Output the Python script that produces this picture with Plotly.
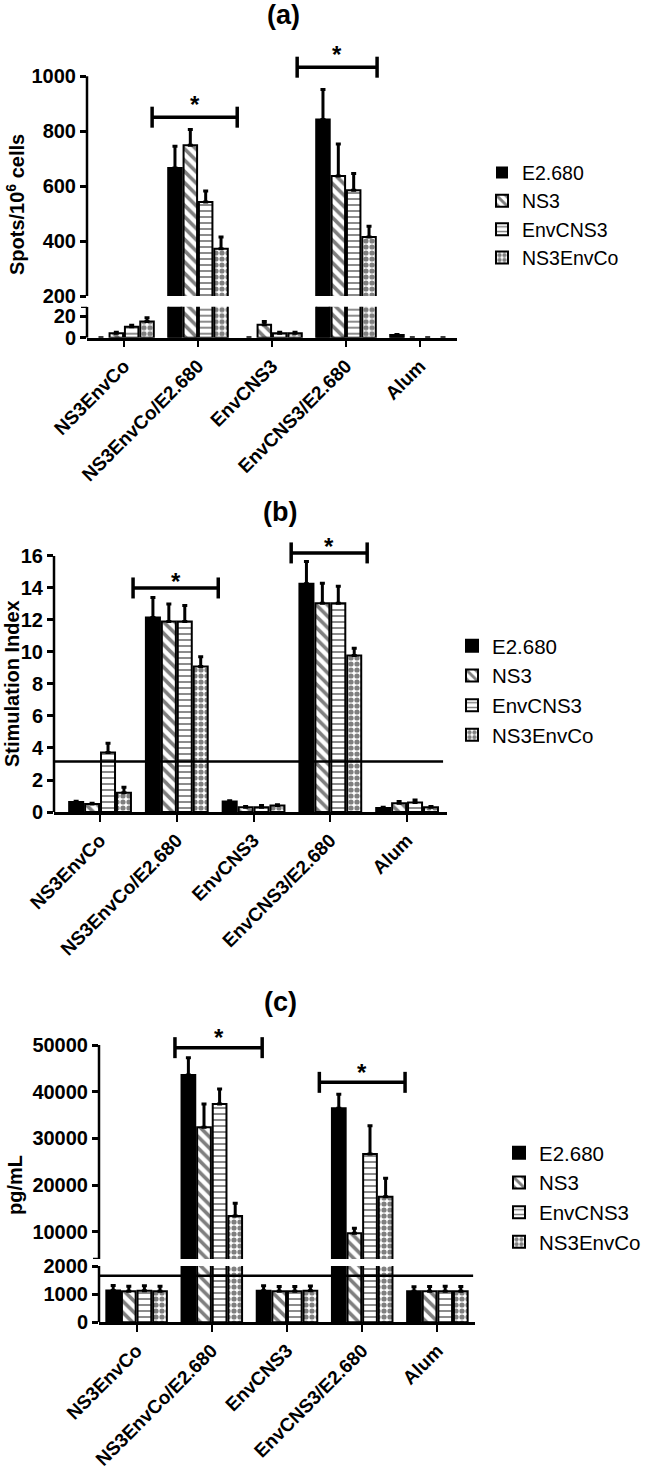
import plotly.graph_objects as go

W, H = 646, 1475
FONT = "Liberation Sans, Arial, sans-serif"

# ---------------- data ----------------
categories = ["NS3EnvCo", "NS3EnvCo/E2.680", "EnvCNS3", "EnvCNS3/E2.680", "Alum"]
series = ["E2.680", "NS3", "EnvCNS3", "NS3EnvCo"]

# (a) IFN-gamma ELISpot, spots / 10^6 cells
spots_E2680 = [0, 666, 0, 843, 2.5]
spots_E2680_err = [0, 79, 0, 109, 0.5]
spots_NS3 = [4, 749, 12, 637, 0]
spots_NS3_err = [1, 57, 3, 116, 0]
spots_EnvCNS3 = [10, 542, 4, 585, 0]
spots_EnvCNS3_err = [1.5, 40, 1, 61, 0]
spots_NS3EnvCo = [15, 372, 4, 415, 0]
spots_NS3EnvCo_err = [3.5, 43, 1, 39, 0]

# (b) stimulation index
si_E2680 = [0.62, 12.15, 0.65, 14.27, 0.25]
si_E2680_err = [0.05, 1.25, 0.05, 1.38, 0.05]
si_NS3 = [0.5, 11.9, 0.3, 13.05, 0.55]
si_NS3_err = [0.05, 1.1, 0.05, 1.25, 0.1]
si_EnvCNS3 = [3.72, 11.9, 0.3, 13.05, 0.6]
si_EnvCNS3_err = [0.58, 1.0, 0.1, 1.05, 0.15]
si_NS3EnvCo = [1.2, 9.1, 0.4, 9.78, 0.3]
si_NS3EnvCo_err = [0.35, 0.6, 0.05, 0.46, 0.05]
si_threshold = 3.16

# (c) pg/mL
pg_E2680 = [1130, 43570, 1120, 36430, 1100]
pg_E2680_err = [180, 3720, 180, 3000, 160]
pg_NS3 = [1100, 32360, 1100, 9640, 1100]
pg_NS3_err = [180, 5000, 170, 1070, 170]
pg_EnvCNS3 = [1120, 37360, 1100, 26640, 1100]
pg_EnvCNS3_err = [180, 3210, 170, 6070, 180]
pg_NS3EnvCo = [1100, 13360, 1120, 17500, 1100]
pg_NS3EnvCo_err = [180, 2720, 170, 3930, 170]
pg_threshold = 1658

# significance brackets: (start position, end position, height)
spots_brackets = [(0.38, 1.53, 851), (2.34, 3.42, 1033)]
si_brackets = [(0.43, 1.54, 14.0), (2.49, 3.48, 16.19)]
pg_brackets = [(0.51, 1.67, 49430), (2.43, 3.57, 42000)]

# axis ranges
spots_low_top, spots_up_bottom, spots_up_top = 28.6, 200, 1132
si_top = 17.31
pg_low_top, pg_up_bottom, pg_up_top = 2000, 4146, 56428

# ---------------- styles ----------------
patterns = {
    "E2.680": dict(shape=""),
    "NS3": dict(shape="\\", fgcolor="black", bgcolor="white", size=8, solidity=0.45),
    "EnvCNS3": dict(shape="-", fgcolor="black", bgcolor="white", size=6, solidity=0.3),
    "NS3EnvCo": dict(shape=".", fgcolor="black", bgcolor="white", size=6, solidity=0.6),
}
fillcol = {"E2.680": "black", "NS3": "white", "EnvCNS3": "white", "NS3EnvCo": "white"}


def px_x(p):
    return p / W


def px_y(p):
    return 1 - p / H


def dom_y(top, bottom):
    return [1 - bottom / H, 1 - top / H]


fig = go.Figure()


def add_bars(vals, errs, xaxis, yaxis, legend, show):
    for name, v, e in zip(series, vals, errs):
        fig.add_trace(go.Bar(
            x=categories, y=v, name=name, xaxis=xaxis, yaxis=yaxis,
            marker=dict(color=fillcol[name], pattern=patterns[name],
                        line=dict(color="black", width=[2 if val > 0 else 0 for val in v])),
            error_y=dict(type="data", array=e, arrayminus=[0] * len(e),
                         symmetric=False, color="black", thickness=3, width=2.5),
            legend=legend, showlegend=show,
        ))


spots_vals = [spots_E2680, spots_NS3, spots_EnvCNS3, spots_NS3EnvCo]
spots_errs = [spots_E2680_err, spots_NS3_err, spots_EnvCNS3_err, spots_NS3EnvCo_err]
si_vals = [si_E2680, si_NS3, si_EnvCNS3, si_NS3EnvCo]
si_errs = [si_E2680_err, si_NS3_err, si_EnvCNS3_err, si_NS3EnvCo_err]
pg_vals = [pg_E2680, pg_NS3, pg_EnvCNS3, pg_NS3EnvCo]
pg_errs = [pg_E2680_err, pg_NS3_err, pg_EnvCNS3_err, pg_NS3EnvCo_err]

add_bars(spots_vals, spots_errs, "x", "y", "legend", False)
add_bars(spots_vals, spots_errs, "x", "y2", "legend", True)
add_bars(si_vals, si_errs, "x2", "y3", "legend2", True)
add_bars(pg_vals, pg_errs, "x3", "y4", "legend3", False)
add_bars(pg_vals, pg_errs, "x3", "y5", "legend3", True)

ytickfont = dict(family=FONT, size=20, color="black", weight="bold")
xtickfont = dict(family=FONT, size=19, color="black", weight="bold")
xcommon = dict(type="category", showline=True, linewidth=2.5, linecolor="black",
               ticks="outside", ticklen=7, tickwidth=2, tickcolor="black",
               tickangle=-45, tickfont=xtickfont, showgrid=False, zeroline=False)
ycommon = dict(showline=False, ticks="outside", ticklen=6, tickwidth=2.5,
               tickcolor="black", tickfont=ytickfont, showgrid=False, zeroline=False,
               tickformat="d")

legfont = lambda s: dict(family=FONT, size=s, color="black")

layout = dict(
    width=W, height=H, margin=dict(l=0, r=0, t=0, b=0, autoexpand=False),
    paper_bgcolor="white", plot_bgcolor="white",
    barmode="group", bargap=0.17, bargroupgap=0.12,
    xaxis=dict(xcommon, domain=[px_x(87), px_x(457)], range=[-0.5, 4.5], anchor="y"),
    yaxis=dict(ycommon, domain=dom_y(306.7, 337.7), range=[0, spots_low_top], anchor="x",
               tickvals=[0, 20]),
    yaxis2=dict(ycommon, domain=dom_y(40, 296), range=[spots_up_bottom, spots_up_top], anchor="x",
                tickvals=[200, 400, 600, 800, 1000]),
    xaxis2=dict(xcommon, domain=[px_x(54), px_x(447)], range=[-0.6, 4.52], anchor="y3"),
    yaxis3=dict(ycommon, domain=dom_y(535, 812), range=[0, si_top], anchor="x2",
                tickvals=[0, 2, 4, 6, 8, 10, 12, 14, 16]),
    xaxis3=dict(xcommon, domain=[px_x(99), px_x(475)], range=[-0.5, 4.5], anchor="y4"),
    yaxis4=dict(ycommon, domain=dom_y(1266, 1322.3), range=[0, pg_low_top], anchor="x3",
                tickvals=[0, 1000, 2000]),
    yaxis5=dict(ycommon, domain=dom_y(1015, 1259), range=[pg_up_bottom, pg_up_top], anchor="x3",
                tickvals=[10000, 20000, 30000, 40000, 50000]),
    legend=dict(x=px_x(482), y=px_y(215.3), xanchor="left", yanchor="middle",
                font=legfont(19.5), bgcolor="rgba(0,0,0,0)"),
    legend2=dict(x=px_x(452), y=px_y(690.5), xanchor="left", yanchor="middle",
                 font=legfont(20.5), bgcolor="rgba(0,0,0,0)"),
    legend3=dict(x=px_x(499), y=px_y(1197.5), xanchor="left", yanchor="middle",
                 font=legfont(20.5), bgcolor="rgba(0,0,0,0)"),
    showlegend=True,
)
fig.update_layout(**layout)

shapes = []
line = dict(color="black", width=2.5)
# y axis lines (only over the labelled span)
for xd, ya, y0, y1 in [("x domain", "y", 0, spots_low_top), ("x domain", "y2", 200, 1000),
                       ("x2 domain", "y3", 0, 16),
                       ("x3 domain", "y4", 0, pg_low_top), ("x3 domain", "y5", pg_up_bottom, 50000)]:
    shapes.append(dict(type="line", xref=xd, x0=0, x1=0, yref=ya, y0=y0, y1=y1, line=line))
# axis-break end ticks
for xd, ya, yv in [("x domain", "y", spots_low_top), ("x3 domain", "y5", pg_up_bottom)]:
    shapes.append(dict(type="line", xref=xd, xsizemode="pixel", xanchor=0, x0=-6, x1=0,
                       yref=ya, y0=yv, y1=yv, line=line))

# threshold lines
shapes.append(dict(type="line", xref="x2 domain", x0=0, x1=0.99, yref="y3",
                   y0=si_threshold, y1=si_threshold, line=dict(color="black", width=2.5)))
shapes.append(dict(type="line", xref="x3 domain", x0=0, x1=0.995, yref="y4",
                   y0=pg_threshold, y1=pg_threshold, line=dict(color="black", width=2.5)))

annotations = []
bl = dict(color="black", width=3.5)
for brs, xa, ya, yshift in [(spots_brackets, "x", "y2", 13), (si_brackets, "x2", "y3", 6),
                            (pg_brackets, "x3", "y5", 10)]:
    for x0, x1, yb in brs:
        shapes.append(dict(type="line", xref=xa, yref=ya, x0=x0, x1=x1, y0=yb, y1=yb, line=bl))
        for xc in (x0, x1):
            shapes.append(dict(type="line", xref=xa, yref=ya, x0=xc, x1=xc,
                               ysizemode="pixel", yanchor=yb, y0=-10.5, y1=10.5, line=bl))
        annotations.append(dict(xref=xa, yref=ya, x=(x0 + x1) / 2, y=yb, text="*",
                                showarrow=False, yshift=yshift, yanchor="middle",
                                font=dict(family=FONT, size=24, color="black", weight="bold")))

titlefont = dict(family=FONT, size=27, color="black", weight="bold")
for t, xp, yp in [("(a)", 283, 15), ("(b)", 280, 512), ("(c)", 280, 1002)]:
    annotations.append(dict(xref="paper", yref="paper", x=px_x(xp), y=px_y(yp), text=t,
                            showarrow=False, xanchor="center", yanchor="middle", font=titlefont))

axfont = dict(family=FONT, size=20, color="black", weight="bold")
for t, xp, yp in [("Spots/10<sup>6</sup> cells", 15, 205), ("Stimulation Index", 12, 684),
                  ("pg/mL", 15, 1185)]:
    annotations.append(dict(xref="paper", yref="paper", x=px_x(xp), y=px_y(yp), text=t,
                            showarrow=False, textangle=-90, xanchor="center", yanchor="middle",
                            font=axfont))

fig.update_layout(shapes=shapes, annotations=annotations)
fig.write_html("out.html", config={"displayModeBar": False},
               post_script="document.body.style.margin='0';")
